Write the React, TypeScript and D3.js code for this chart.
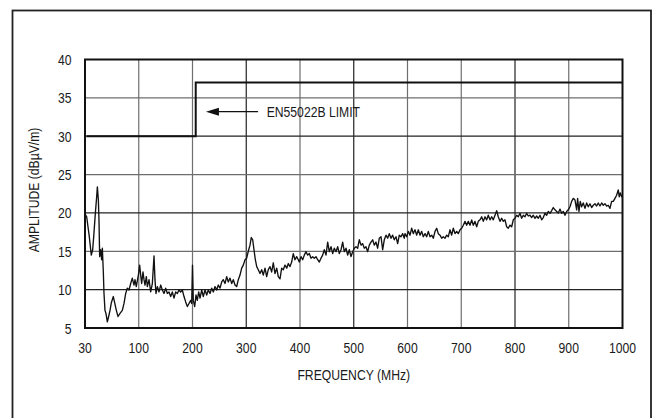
import React from "react";
import * as d3 from "d3";

const xTicks = [30, 100, 200, 300, 400, 500, 600, 700, 800, 900, 1000];
const yTicks = [5, 10, 15, 20, 25, 30, 35, 40];
const darkX = [300, 500, 800];
const darkY = [10, 20, 30];
const limitFreq = [32, 206, 206, 1000];
const limitAmp = [30, 30, 37, 37];
const limitLabel = "EN55022B LIMIT";
const arrowFreq = [225, 322];
const arrowAmp = 33.2;
const labelFreq = 338;
const xTitle = "FREQUENCY (MHz)";
const yTitle = "AMPLITUDE (dBµV/m)";

const emission: [number, number][] = [
  [30.5, 19.8], [32.2, 19.5], [33.9, 18.2], [35.6, 16.9], [38.2, 14.5], [40.0, 15.2], [41.7, 17.4], [43.5, 20.0],
  [45.2, 22.1], [46.1, 23.4], [47.4, 21.7], [48.2, 19.1], [49.1, 14.3], [50.4, 15.2], [51.7, 13.9], [52.6, 15.4],
  [53.9, 12.2], [54.7, 9.6], [56.0, 7.3], [57.3, 6.9], [59.1, 5.8], [60.8, 6.5], [62.6, 7.3], [64.3, 8.3],
  [66.9, 9.1], [68.6, 8.3], [70.8, 7.3], [73.0, 6.5], [75.6, 6.9], [78.6, 7.3], [80.8, 8.2], [83.0, 9.5],
  [85.1, 10.2], [87.3, 9.95], [89.5, 10.8], [91.6, 11.5], [93.8, 10.6], [95.1, 11.3], [96.8, 10.4], [99.5, 11.9],
  [101.7, 13.2], [103.6, 11.9], [105.4, 10.8], [107.9, 12.3], [109.8, 11.3], [111.6, 10.6], [114.1, 11.7], [116.0, 10.4],
  [119.1, 11.3], [122.2, 9.7], [125.3, 10.8], [128.4, 14.4], [130.2, 11.3], [132.1, 9.5], [134.6, 10.4], [137.7, 9.7],
  [140.8, 10.6], [143.9, 9.95], [147.0, 9.5], [150.1, 10.2], [153.2, 9.5], [156.3, 9.7], [159.4, 9.1], [162.5, 9.7],
  [165.6, 8.9], [168.7, 9.7], [171.8, 9.5], [174.9, 9.95], [178.0, 9.7], [181.1, 9.95], [184.2, 9.1], [187.3, 8.4],
  [190.4, 7.8], [193.5, 8.2], [196.6, 8.6], [198.5, 8.2], [200.0, 13.2], [201.5, 8.6], [204.1, 7.8], [206.5, 9.3],
  [208.9, 8.6], [211.5, 9.7], [214, 8.9], [217.1, 9.95], [220.1, 9.1], [223.3, 9.95], [226.4, 9.3], [229.4, 9.95],
  [232.6, 9.5], [235.7, 10.2], [238.7, 9.7], [241.9, 10.4], [245, 9.95], [248, 10.6], [251.2, 10.2], [254.3, 11.0],
  [257.3, 11.3], [260.5, 10.8], [263.6, 11.7], [266.6, 11.0], [269.8, 11.5], [272.9, 10.8], [275.9, 11.3], [279.1, 10.6],
  [282.2, 10.4], [285.2, 11.3], [288.4, 11.9], [291.5, 12.8], [294.5, 13.2], [297.7, 13.9], [300.8, 14.1], [303.8, 15.0],
  [307, 15.8], [309.4, 16.8], [312, 16.5], [314.4, 15.2], [316.9, 13.9], [319.5, 13.0], [322.4, 12.6], [325.6, 12.1],
  [328.7, 12.6], [331.7, 11.9], [334.9, 12.8], [338, 11.7], [341, 12.6], [344.2, 13.0], [347.3, 12.3], [350.3, 13.5],
  [353.5, 12.1], [356.7, 12.8], [359.6, 11.7], [362.8, 11.4], [365.9, 12.8], [368.9, 12.6], [372.1, 13.2], [375.3, 12.8],
  [378.3, 13.4], [381.4, 13.0], [384.5, 13.6], [387.5, 14.7], [390.7, 13.9], [393.8, 14.3], [396.8, 13.9], [398.7, 13.6],
  [401.9, 14.3], [405, 13.9], [408, 14.5], [411.2, 14.95], [414.3, 14.5], [417.3, 14.7], [420.5, 14.1], [423.6, 14.3],
  [426.6, 14.1], [429.8, 14.3], [432.9, 13.9], [435.9, 13.6], [439.1, 14.1], [442.2, 14.5], [445.2, 15.2], [448.4, 14.5],
  [451.5, 16.2], [454.5, 14.95], [457.7, 15.6], [460.8, 14.7], [463.8, 15.4], [467, 14.95], [470.1, 15.6], [473.1, 14.7],
  [476.3, 15.2], [479.4, 16.2], [482.4, 14.95], [485.6, 15.4], [488.7, 14.5], [491.7, 15.2], [494.9, 14.3], [498, 14.95],
  [501, 15.4], [504.2, 15.6], [507.3, 15.4], [510.3, 16.5], [513.5, 15.8], [516.6, 16.0], [519.6, 15.4], [522.8, 15.6],
  [525.9, 14.95], [528.9, 15.8], [532.1, 16.2], [535.2, 16.5], [538.2, 15.8], [541.4, 16.2], [544.5, 15.4], [547.5, 16.7],
  [550.7, 16.9], [553.8, 15.2], [556.8, 16.5], [560, 17.1], [563.1, 16.7], [566.1, 17.3], [569.3, 16.7], [572.4, 17.1],
  [575.4, 16.5], [578.6, 16.9], [581.7, 16.0], [584.7, 17.1], [587.9, 16.9], [591, 17.3], [594, 16.7], [595.3, 17.3],
  [598.5, 16.9], [601.5, 17.6], [604.7, 17.1], [607.8, 18.0], [610.8, 17.3], [614, 17.8], [617.1, 17.1], [620.1, 17.8],
  [623.3, 17.1], [626.4, 17.6], [629.4, 16.9], [632.6, 17.3], [635.7, 16.9], [638.7, 17.6], [641.9, 16.9], [645, 17.1],
  [648, 16.7], [651.2, 17.6], [654.3, 18.0], [657.3, 17.3], [660.5, 17.1], [663.6, 16.7], [666.6, 16.9], [669.8, 16.7],
  [672.9, 17.1], [675.9, 16.9], [679.1, 17.8], [682.2, 17.1], [685.2, 18.0], [688.4, 17.3], [691.5, 17.6], [694.5, 17.3],
  [697.7, 17.8], [700.8, 18.0], [703.8, 18.4], [707, 18.9], [710.1, 18.4], [713.1, 18.9], [716.3, 18.4], [719.4, 19.1],
  [722.4, 18.4], [725.6, 18.9], [728.7, 18.2], [731.7, 18.9], [734.9, 19.1], [738, 19.5], [741, 18.9], [744.2, 19.5],
  [747.3, 19.1], [750.3, 19.7], [753.5, 19.1], [756.6, 19.5], [759.6, 19.1], [762.8, 19.7], [765.9, 20.3], [768.9, 19.5],
  [772.1, 18.9], [775.2, 19.3], [778.2, 18.9], [781.4, 19.1], [784.5, 18.2], [787.5, 18.0], [790.7, 18.4], [793.8, 18.2],
  [796.8, 19.1], [800, 19.3], [803.1, 19.7], [806.1, 19.5], [809.3, 19.95], [812.4, 19.3], [815.4, 19.7], [818.6, 19.5],
  [821.7, 19.95], [824.7, 19.6], [827.9, 19.7], [831, 19.4], [834, 19.7], [837.2, 19.3], [840.3, 19.6], [843.3, 19.3],
  [846.5, 19.7], [849.6, 19.1], [852.6, 19.4], [855.8, 19.95], [858.9, 19.7], [861.9, 20.2], [865.1, 19.95], [868.2, 20.3],
  [871.2, 20.7], [874.4, 20.4], [877.5, 20.2], [880.5, 20.0], [883.7, 20.5], [886.8, 19.95], [889.8, 20.2], [893, 19.7],
  [896.1, 20.2], [899.1, 20.4], [902.3, 20.8], [905.4, 21.5], [908.4, 21.9], [911.6, 21.7], [914.7, 20.4], [916.5, 21.9],
  [919, 20.2], [921.4, 21.5], [924, 20.8], [927, 21.3], [930.2, 20.6], [933.3, 21.3], [936.3, 20.8], [939.5, 21.2],
  [942.6, 20.7], [945.6, 21.0], [948.8, 21.2], [951.9, 20.9], [954.9, 21.3], [958.1, 20.9], [961.2, 21.3], [964.2, 21.0],
  [967.4, 21.2], [970.5, 20.9], [973.5, 21.0], [976.7, 20.6], [979.8, 21.5], [982.8, 21.5], [986, 21.9], [989.1, 22.3],
  [992.1, 23.0], [994, 22.1], [995.9, 22.6], [998.5, 22.1], [1000, 22.3],
];

const W = 654;
const H = 418;
const L = 85;
const R = 622.5;
const T = 59.5;
const B = 328;
const FONT = "'Liberation Sans', Arial, Helvetica, sans-serif";
const SX = 0.87;
const INK = "#1a1a1a";

const x = d3
  .scaleLinear()
  .domain(xTicks)
  .range(xTicks.map((_, i) => L + (i * (R - L)) / (xTicks.length - 1)));
const y = d3.scaleLinear().domain([5, 40]).range([B, T]);

function Label(props: { x: number; y: number; anchor?: string; rotate?: number; children: React.ReactNode }) {
  const rot = props.rotate ? ` rotate(${props.rotate})` : "";
  return (
    <text
      transform={`translate(${props.x},${props.y})${rot} scale(${SX},1)`}
      textAnchor={props.anchor || "start"}
      fontFamily={FONT}
      fontSize={14}
      fill={INK}
    >
      {props.children}
    </text>
  );
}

export default function App() {
  const line = d3
    .line<[number, number]>()
    .x((d) => x(d[0]))
    .y((d) => y(d[1]));
  const limitPts: [number, number][] = limitFreq.map((f, i) => [f, limitAmp[i]]);
  const ay = y(arrowAmp);
  const tipX = x(arrowFreq[0]);
  const tailX = x(arrowFreq[1]);

  return (
    <svg width={W} height={H} style={{ position: "absolute", left: 0, top: 0, background: "#fff" }}>
      <rect x={12.5} y={10.5} width={638.5} height={430} fill="#fff" stroke="#222" strokeWidth={1.8} />
      {xTicks.slice(1, -1).map((t) => (
        <line
          key={"gx" + t}
          x1={x(t)}
          x2={x(t)}
          y1={T}
          y2={B}
          stroke={darkX.includes(t) ? "#222" : "#6e6e6e"}
          strokeWidth={1.2}
        />
      ))}
      {yTicks.slice(1, -1).map((t) => (
        <line
          key={"gy" + t}
          x1={L}
          x2={R}
          y1={y(t)}
          y2={y(t)}
          stroke={darkY.includes(t) ? "#222" : "#6e6e6e"}
          strokeWidth={1.2}
        />
      ))}
      <path d={line(limitPts) || ""} fill="none" stroke="#111" strokeWidth={2} />
      <path d={line(emission) || ""} fill="none" stroke="#111" strokeWidth={1.35} strokeLinejoin="round" />
      <rect x={L} y={T} width={R - L} height={B - T} fill="none" stroke="#111" strokeWidth={2} />
      <line x1={tipX + 10} x2={tailX} y1={ay} y2={ay} stroke="#111" strokeWidth={1.2} />
      <path d={`M${tipX},${ay} L${tipX + 13},${ay - 4} L${tipX + 13},${ay + 4} Z`} fill="#111" />
      <Label x={x(labelFreq)} y={ay + 5.5}>
        {limitLabel}
      </Label>
      {yTicks.map((t) => (
        <Label key={"yl" + t} x={71.5} y={y(t) + 5.5} anchor="end">
          {t}
        </Label>
      ))}
      {xTicks.map((t) => (
        <Label key={"xl" + t} x={x(t)} y={353} anchor="middle">
          {t}
        </Label>
      ))}
      <Label x={(L + R) / 2} y={380} anchor="middle">
        {xTitle}
      </Label>
      <Label x={39} y={190} anchor="middle" rotate={-90}>
        {yTitle}
      </Label>
    </svg>
  );
}
